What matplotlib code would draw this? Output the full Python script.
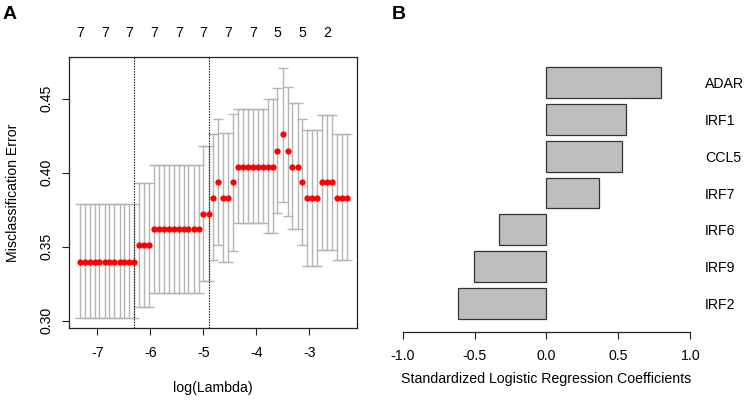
import matplotlib
matplotlib.use("Agg")
import matplotlib.pyplot as plt

plt.rcParams['font.family'] = ['Liberation Sans', 'DejaVu Sans']

# panel A: cross-validation curve
log_lambda = [-7.33, -7.24, -7.14, -7.05, -6.96, -6.86, -6.77, -6.68, -6.58, -6.49,
              -6.40, -6.30, -6.21, -6.12, -6.02, -5.93, -5.84, -5.74, -5.65, -5.56,
              -5.46, -5.37, -5.28, -5.18, -5.09, -5.00, -4.90, -4.81, -4.72, -4.62,
              -4.53, -4.44, -4.34, -4.25, -4.16, -4.06, -3.97, -3.88, -3.78, -3.69,
              -3.60, -3.50, -3.41, -3.32, -3.22, -3.13, -3.04, -2.94, -2.85, -2.76,
              -2.66, -2.57, -2.48, -2.38, -2.29]
cv_error = [0.340, 0.340, 0.340, 0.340, 0.340, 0.340, 0.340, 0.340, 0.340, 0.340,
            0.340, 0.340, 0.351, 0.351, 0.351, 0.362, 0.362, 0.362, 0.362, 0.362,
            0.362, 0.362, 0.362, 0.362, 0.362, 0.372, 0.372, 0.383, 0.394, 0.383,
            0.383, 0.394, 0.404, 0.404, 0.404, 0.404, 0.404, 0.404, 0.404, 0.404,
            0.415, 0.426, 0.415, 0.404, 0.404, 0.394, 0.383, 0.383, 0.383, 0.394,
            0.394, 0.394, 0.383, 0.383, 0.383]
cv_upper = [0.379, 0.379, 0.379, 0.379, 0.379, 0.379, 0.379, 0.379, 0.379, 0.379,
            0.379, 0.379, 0.393, 0.393, 0.393, 0.405, 0.405, 0.405, 0.405, 0.405,
            0.405, 0.405, 0.405, 0.405, 0.405, 0.418, 0.418, 0.426, 0.436, 0.427,
            0.427, 0.440, 0.443, 0.443, 0.443, 0.443, 0.443, 0.443, 0.450, 0.450,
            0.457, 0.471, 0.458, 0.447, 0.447, 0.436, 0.429, 0.429, 0.429, 0.439,
            0.439, 0.439, 0.426, 0.426, 0.426]
cv_lower = [0.302, 0.302, 0.302, 0.302, 0.302, 0.302, 0.302, 0.302, 0.302, 0.302,
            0.302, 0.302, 0.309, 0.309, 0.309, 0.319, 0.319, 0.319, 0.319, 0.319,
            0.319, 0.319, 0.319, 0.319, 0.319, 0.327, 0.327, 0.341, 0.351, 0.340,
            0.340, 0.347, 0.366, 0.366, 0.366, 0.366, 0.366, 0.366, 0.359, 0.359,
            0.373, 0.380, 0.371, 0.362, 0.362, 0.351, 0.337, 0.337, 0.337, 0.348,
            0.348, 0.348, 0.341, 0.341, 0.341]
lambda_min = -6.30
lambda_1se = -4.90
nzero_labels = ['7', '7', '7', '7', '7', '7', '7', '7', '5', '5', '2']

# panel B: coefficients
genes = ['IRF2', 'IRF9', 'IRF6', 'IRF7', 'CCL5', 'IRF1', 'ADAR']
coefs = [-0.612, -0.501, -0.329, 0.366, 0.522, 0.554, 0.793]

fs = 10.2
fig = plt.figure(figsize=(7.5, 4.01), dpi=100)

# ---- A
ax = fig.add_axes([0.0924, 0.182, 0.384, 0.675])
yerr = [[m - l for m, l in zip(cv_error, cv_lower)],
        [u - m for m, u in zip(cv_error, cv_upper)]]
ax.errorbar(log_lambda, cv_error, yerr=yerr, fmt='none', ecolor='#B4B4B4',
            elinewidth=1.0, capsize=3.8, capthick=1.0, zorder=1)
ax.plot(log_lambda, cv_error, 'o', color='red', markersize=4.5, markeredgewidth=0, zorder=3)
ax.axvline(lambda_min, color='black', linestyle=(0, (1.2, 1.2)), linewidth=0.8, zorder=2)
ax.axvline(lambda_1se, color='black', linestyle=(0, (1.2, 1.2)), linewidth=0.8, zorder=2)
ax.set_xlim(-7.528, -2.094)
ax.set_ylim(0.2951, 0.478)
ax.set_xticks([-7, -6, -5, -4, -3])
ax.set_xticklabels(['-7', '-6', '-5', '-4', '-3'])
ax.set_yticks([0.30, 0.35, 0.40, 0.45])
ax.set_yticklabels(['0.30', '0.35', '0.40', '0.45'])
ax.tick_params(axis='both', direction='out', length=5.2, width=0.8, labelsize=fs, color='#222222')
ax.tick_params(axis='x', pad=7.5)
ax.tick_params(axis='y', pad=6, labelrotation=90)
for lab in ax.get_yticklabels():
    lab.set_va('center')
for s in ax.spines.values():
    s.set_linewidth(0.9)
    s.set_color('#222222')
for x, t in zip(log_lambda[::5], nzero_labels):
    ax.text(x, 1.0898, t, transform=ax.get_xaxis_transform(), ha='center', va='center',
            fontsize=fs)
ax.set_xlabel('log(Lambda)', fontsize=fs, va='center')
ax.xaxis.set_label_coords(0.5, -0.2216)
ax.set_ylabel('Misclassification Error', fontsize=fs, va='center')
ax.yaxis.set_label_coords(-0.1955, 0.5)

# ---- B
bx = fig.add_axes([0.5369, 0.1728, 0.3835, 0.6842])
bx.barh(range(len(genes)), coefs, height=0.836, color='#BEBEBE', edgecolor='#333333',
        linewidth=0.9)
bx.set_xlim(-1, 1)
bx.set_ylim(-0.776, 6.694)
bx.set_xticks([-1.0, -0.5, 0.0, 0.5, 1.0])
bx.set_xticklabels(['-1.0', '-0.5', '0.0', '0.5', '1.0'])
bx.set_yticks(range(len(genes)))
bx.set_yticklabels(genes)
bx.yaxis.tick_right()
bx.tick_params(axis='y', length=0, pad=10.6, labelsize=fs)
bx.tick_params(axis='x', direction='out', length=5.2, width=0.8, pad=7.5, labelsize=fs,
               color='#222222')
for lab in bx.get_yticklabels():
    lab.set_ha('left')
for side in ['top', 'left', 'right']:
    bx.spines[side].set_visible(False)
bx.spines['bottom'].set_linewidth(0.9)
bx.spines['bottom'].set_color('#222222')
bx.set_xlabel('Standardized Logistic Regression Coefficients', fontsize=fs, va='center')
bx.xaxis.set_label_coords(0.5, -0.1724)

fig.text(0.004, 0.963, 'A', fontsize=14, fontweight='bold', ha='left', va='center')
fig.text(0.522, 0.963, 'B', fontsize=14, fontweight='bold', ha='left', va='center')

plt.savefig('out.png', dpi=100)
